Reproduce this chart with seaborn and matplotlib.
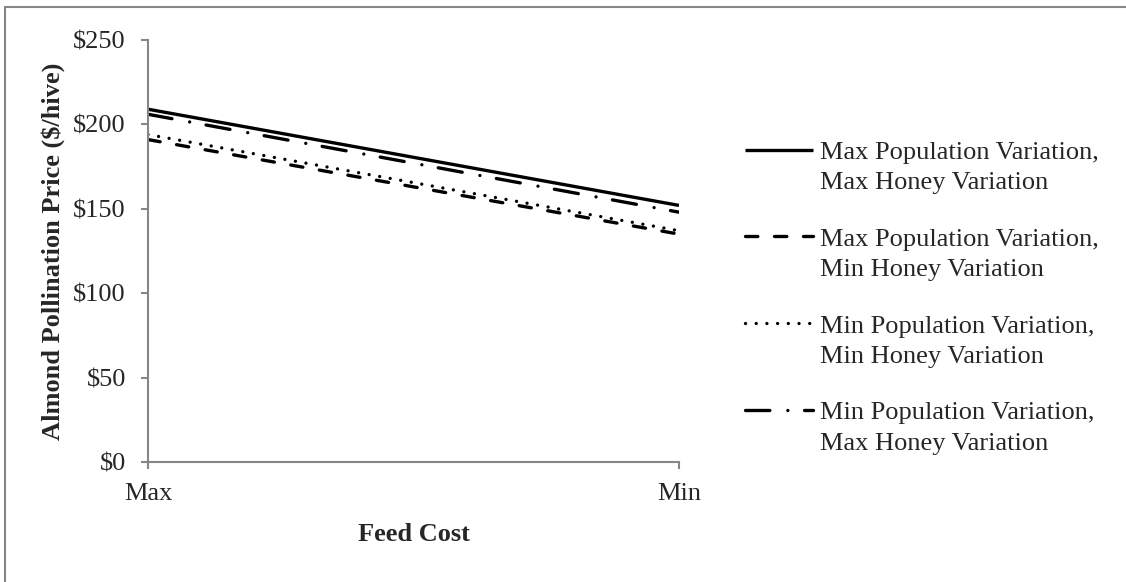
import matplotlib
matplotlib.use("Agg")
import matplotlib.pyplot as plt
import matplotlib.patches as mpatches
from matplotlib.legend_handler import HandlerLine2D
import numpy as np
import pandas as pd
import seaborn as sns

# Feed cost scenarios on the x axis
feed_levels = ["Max", "Min"]

# Almond pollination price ($/hive) for each variation scenario
max_pop_max_honey = [209, 152]
max_pop_min_honey = [191, 135]
min_pop_min_honey = [194, 137]
min_pop_max_honey = [206, 148]

series_names = [
    "Max Population Variation,\nMax Honey Variation",
    "Max Population Variation,\nMin Honey Variation",
    "Min Population Variation,\nMin Honey Variation",
    "Min Population Variation,\nMax Honey Variation",
]
series_values = [max_pop_max_honey, max_pop_min_honey, min_pop_min_honey, min_pop_max_honey]

y_ticks = [0, 50, 100, 150, 200, 250]
y_tick_labels = ["$0", "$50", "$100", "$150", "$200", "$250"]

rows = []
for name, vals in zip(series_names, series_values):
    for i, (lvl, v) in enumerate(zip(feed_levels, vals)):
        rows.append({"pos": i, "feed": lvl, "price": v, "series": name})
df = pd.DataFrame(rows)

sns.set_style("white")
plt.rcParams["font.family"] = ["Liberation Serif", "DejaVu Serif"]
FS = 19
plt.rcParams["font.size"] = FS

GRAY = "#868686"
LW = 2.4

dash_map = {
    series_names[0]: "",
    series_names[1]: (3.7, 5.0),
    series_names[2]: (0.01, 3.2),
    series_names[3]: (7.3, 5.4, 0.01, 5.0),
}

fig = plt.figure(figsize=(11.26, 5.82), dpi=100)
ax = fig.add_axes([148 / 1126, 1 - 462 / 582, (679 - 148) / 1126, (462 - 40) / 582])

sns.lineplot(
    data=df, x="pos", y="price", style="series", style_order=series_names,
    dashes=dash_map, color="black", linewidth=LW, ax=ax, legend=False,
    estimator=None, sort=False,
)
for ln in ax.get_lines():
    ln.set_dash_capstyle("round")
    ln.set_solid_capstyle("butt")

ax.set_xlim(0, 1)
ax.set_ylim(0, 250)
ax.set_xticks([0, 1])
ax.set_xticklabels(feed_levels)
ax.set_yticks(y_ticks)
ax.set_yticklabels(y_tick_labels)

for side in ("top", "right"):
    ax.spines[side].set_visible(False)
for side in ("left", "bottom"):
    ax.spines[side].set_color(GRAY)
    ax.spines[side].set_linewidth(1.5)

ax.tick_params(axis="y", direction="out", length=5, width=1.5, color=GRAY,
               pad=11, labelsize=FS, left=True)
ax.tick_params(axis="x", direction="out", length=5, width=1.5, color=GRAY,
               pad=10, labelsize=FS, bottom=True)

ax.set_xlabel("Feed Cost", fontsize=FS, fontweight="bold", labelpad=13)
ax.set_ylabel("Almond Pollination Price ($/hive)", fontsize=FS, fontweight="bold", labelpad=6)


class TopAlignedLine(HandlerLine2D):
    """Place the legend key level with the first line of a two-line label."""
    def create_artists(self, legend, orig_handle, xdescent, ydescent, width, height, fontsize, trans):
        artists = super().create_artists(legend, orig_handle, xdescent, ydescent,
                                         width, height, fontsize, trans)
        for a in artists:
            if hasattr(a, "get_ydata"):
                y = np.asarray(a.get_ydata(), dtype=float)
                a.set_ydata(y + 0.68 * fontsize)
        return artists


handles = ax.get_lines()[:4]
leg = fig.legend(
    handles, series_names, loc="upper left",
    bbox_to_anchor=(745 / 1126, 1 - 142 / 582), bbox_transform=fig.transFigure,
    frameon=False, borderpad=0, borderaxespad=0, handlelength=68 / (FS * 100 / 72),
    handletextpad=7 / (FS * 100 / 72), labelspacing=1.3, fontsize=FS,
    handler_map={type(handles[0]): TopAlignedLine()},
)
for t in leg.get_texts():
    t.set_linespacing(1.5)

# Thin gray frame around the figure
frame = mpatches.Rectangle((5 / 1126, -0.05), 1.2, (1 - 7 / 582) + 0.05,
                           transform=fig.transFigure, fill=False,
                           edgecolor=GRAY, linewidth=1.5, clip_on=False)
fig.patches.append(frame)

fig.savefig("out.png", dpi=100)
